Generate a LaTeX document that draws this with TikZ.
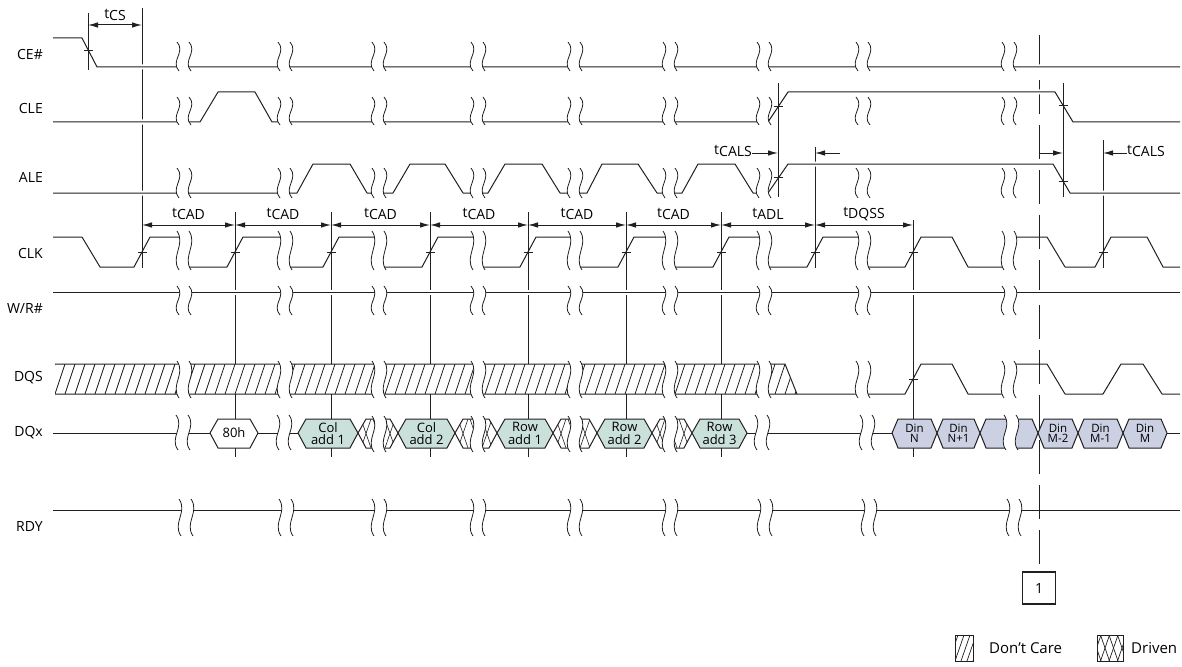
\documentclass[tikz,border=0pt]{standalone}
\usepackage{fontspec}
\setmainfont{Open Sans}
\usetikzlibrary{arrows.meta}
\definecolor{lc}{RGB}{35,31,32}
\definecolor{addrfill}{RGB}{202,224,219}
\definecolor{dinfill}{RGB}{203,208,227}

\newcommand{\tsub}[1]{t\raisebox{-0.35ex}{#1}}
% break mark: centre x, top y, bottom y
\newcommand{\brk}[3]{%
  \fill[white] ({#1-7},#2) .. controls ({#1+2},{#2+0.35*(#3-#2)}) and ({#1-14},{#2+0.65*(#3-#2)}) .. ({#1-5},#3)
    -- ({#1+7},#3) .. controls ({#1-2},{#2+0.65*(#3-#2)}) and ({#1+14},{#2+0.35*(#3-#2)}) .. ({#1+5},#2) -- cycle;
  \draw[lc, line width=0.8pt] ({#1-7},#2) .. controls ({#1+2},{#2+0.35*(#3-#2)}) and ({#1-14},{#2+0.65*(#3-#2)}) .. ({#1-5},#3);
  \draw[lc, line width=0.8pt] ({#1+5},#2) .. controls ({#1+14},{#2+0.35*(#3-#2)}) and ({#1-2},{#2+0.65*(#3-#2)}) .. ({#1+7},#3);
}

\begin{document}
\begin{tikzpicture}[x=1pt, y=-1pt,
  sig/.style={draw=lc, line width=1pt, line join=round},
  halo/.style={preaction={draw=white, line width=5pt}},
  tl/.style={draw=lc, line width=1pt},
  dim/.style={draw=lc, line width=1pt, arrows={Latex[length=10pt,width=5.5pt]-Latex[length=10pt,width=5.5pt]}},
  one/.style={draw=lc, line width=1pt, arrows={-Latex[length=10pt,width=5.5pt]}},
  tk/.style={draw=lc, line width=0.9pt},
  lbl/.style={anchor=east, inner sep=0pt, font=\fontsize{14}{16}\selectfont},
  tlbl/.style={inner sep=0pt, font=\fontsize{14}{16}\selectfont},
  hexlbl/.style={align=center, inner sep=0pt, font=\fontsize{13}{12.5}\selectfont},
  dinlbl/.style={align=center, inner sep=0pt, font=\fontsize{11.5}{10.5}\selectfont},
  lgtxt/.style={anchor=west, inner sep=0pt, font=\fontsize{15}{17}\selectfont},
]
\useasboundingbox (0,0) rectangle (1182,666);
\def\cols{184,285,379,478,575,670,764,863,1009}

% Reference lines (behind)
\node[draw=lc, line width=1.5pt, minimum width=33pt, minimum height=32pt, inner sep=0pt,
      font=\fontsize{14}{16}\selectfont] (n1) at (1039,588) {1};
\draw[lc, line width=1pt, dash pattern=on 34pt off 11pt] (1039,35) -- (n1.north);
\draw[tl] (142,8) -- (142,268);
\foreach \x in {235,331,430,528,626,721} \draw[tl] (\x,212) -- (\x,457);
\draw[tl] (815,147) -- (815,268);
\draw[tl] (913,220) -- (913,457);
\draw[tl] (1103,140) -- (1103,268);

% Signal names
\node[lbl] (lce) at (43,55) {CE\#};
\node[lbl] (lcle) at (43,108) {CLE};
\node[lbl] (lale) at (43,177) {ALE};
\node[lbl] (lclk) at (43,253) {CLK};
\node[lbl] (lwr) at (43,308) {W/R\#};
\node[lbl] (ldqs) at (43,378) {DQS};
\node[lbl] (ldqx) at (43,433) {DQx};
\node[lbl] (lrdy) at (43,526) {RDY};

% Waveforms
\draw[sig, halo] (53,38) -- (82,38) -- (97,67) -- (1180,67);
\draw[sig, halo] (53,122) -- (200,122) -- (218,92) -- (255,92) -- (272,122) -- (768,122) -- (788,92)
  -- (1055,92) -- (1073,122) -- (1180,122);
\draw[sig, halo] (53,193) -- (297,193) -- (313,164) -- (350,164) -- (367,193)
  -- (393,193) -- (410,164) -- (445,164) -- (463,193)
  -- (488,193) -- (505,164) -- (542,164) -- (560,193)
  -- (587,193) -- (602,164) -- (638,164) -- (657,193)
  -- (682,193) -- (698,164) -- (735,164) -- (753,193)
  -- (768,193) -- (788,164) -- (1053,164) -- (1070,193) -- (1180,193);
\draw[sig] (53,237) -- (82,237) -- (100,267) -- (134,267) -- (150,237) -- (184,237) -- (184,267)
  -- (227,267) -- (243,237) -- (285,237) -- (285,267)
  -- (323,267) -- (339,237) -- (379,237) -- (379,267)
  -- (422,267) -- (438,237) -- (478,237) -- (478,267)
  -- (520,267) -- (536,237) -- (575,237) -- (575,267)
  -- (618,267) -- (634,237) -- (670,237) -- (670,267)
  -- (713,267) -- (729,237) -- (764,237) -- (764,267)
  -- (807,267) -- (823,237) -- (863,237) -- (863,267)
  -- (905,267) -- (921,237) -- (952,237) -- (968,267) -- (1009,267) -- (1009,237)
  -- (1047,237) -- (1065,267) -- (1095,267) -- (1111,237) -- (1147,237) -- (1163,267) -- (1180,267);
\draw[sig, halo] (53,292.5) -- (1180,292.5);
\draw[sig] (53,510.5) -- (1180,510.5);

% DQS
\begin{scope}
  \clip (55,364) -- (785,364) -- (797,394) -- (55,394) -- cycle;
  \fill[white] (55,364) rectangle (797,394);
  \foreach \hx in {45,55,...,795} \draw[lc, line width=0.8pt] (\hx,394) -- ({\hx+10},364);
\end{scope}
\draw[sig] (55,364) -- (785,364) -- (797,394);
\draw[sig] (55,394) -- (905,394) -- (921,364) -- (952,364) -- (968,394) -- (1009,394) -- (1009,364)
  -- (1047,364) -- (1065,394) -- (1103,394) -- (1121,364) -- (1143,364) -- (1162,394) -- (1180,394);

% DQx
\draw[sig] (53,433) -- (210,433);
\filldraw[sig, fill=white] (210,433) -- (218,419) -- (250,419) -- (258,433) -- (250,448) -- (218,448) -- cycle;
\node[hexlbl] (h80) at (234,433) {80h};
\draw[sig] (258,433) -- (298,433);
\foreach \a/\b in {358/398,455/497,553/597,652/692}{
  \begin{scope}
    \clip (\a,433) -- ({\a+8},419) -- ({\b-8},419) -- (\b,433) -- ({\b-8},448) -- ({\a+8},448) -- cycle;
    \fill[white] (\a,419) rectangle (\b,448);
    \foreach \k in {0,...,3}{
      \draw[lc, line width=0.6pt] ({\a+3+12*\k},448) -- ({\a+3+12*\k+10},419);
      \draw[lc, line width=0.6pt] ({\a+3+12*\k},419) -- ({\a+3+12*\k+10},448);
    }
  \end{scope}
  \draw[sig] (\a,433) -- ({\a+8},419) -- ({\b-8},419) -- (\b,433) -- ({\b-8},448) -- ({\a+8},448) -- cycle;
}
\foreach \a/\b/\n/\t in {298/358/ca1/{Col\\add 1}, 398/455/ca2/{Col\\add 2}, 497/553/ra1/{Row\\add 1},
                         597/652/ra2/{Row\\add 2}, 692/747/ra3/{Row\\add 3}}{
  \filldraw[sig, fill=addrfill] (\a,433) -- ({\a+8},419) -- ({\b-8},419) -- (\b,433) -- ({\b-8},448) -- ({\a+8},448) -- cycle;
  \node[hexlbl] (\n) at ({(\a+\b)/2},433.5) {\t};
}
\draw[sig] (747,433) -- (892,433);
\foreach \a/\b/\n/\t in {892/937/d1/{Din\\N}, 937/980/d2/{Din\\N+1}, 980/1038/d3/{}, 1038/1078/d4/{Din\\M-2},
                         1078/1123/d5/{Din\\M-1}, 1123/1167/d6/{Din\\M}}{
  \filldraw[sig, fill=dinfill] (\a,433) -- ({\a+6},419) -- ({\b-6},419) -- (\b,433) -- ({\b-6},448) -- ({\a+6},448) -- cycle;
  \node[dinlbl] (\n) at ({(\a+\b)/2},433.5) {\t};
}
\draw[sig] (1167,433) -- (1180,433);

% Breaks
\foreach \c in \cols {\brk{\c}{42}{71} \brk{\c}{97}{125} \brk{\c}{168}{198} \brk{\c}{231}{270}
  \brk{\c}{286}{315} \brk{\c}{361}{398}}
\foreach \c in {183,284} {\brk{\c}{415}{450}}
\foreach \c in {379,478,575,670} {\brk{\c}{416}{452}}
\foreach \c in {762,867,1011} {\brk{\c}{415}{450}}
\foreach \c in {186,286,379,478,575,670,765,869,1014} {\brk{\c}{499}{536}}

% Reference lines (front)
\draw[tl] (88,13) -- (88,70);
\draw[tl] (778,83) -- (778,197);
\draw[tl] (1063,83) -- (1063,197);

% Crossing ticks
\foreach \x/\y in {88/50, 142/252, 235/252, 331/252, 430/252, 528/252, 626/252, 721/252, 815/252, 913/252,
                   1103/252, 778/106, 778/177, 1063/105, 1063/181, 913/379}
  \draw[tk] ({\x-4.5},\y) -- ({\x+4.5},\y);

% Timing parameters
\coordinate (cs0) at (88,25);
\coordinate (cs1) at (142,25);
\draw[dim] (cs0) -- node[tlbl, midway, yshift=10pt] (lcs) {\tsub{CS}} (cs1);
\foreach \i/\x in {0/142,1/235,2/331,3/430,4/528,5/626,6/721,7/815,8/913}
  \coordinate (v\i) at (\x,225);
\foreach \a/\b/\t in {0/1/CAD,1/2/CAD,2/3/CAD,3/4/CAD,4/5/CAD,5/6/CAD,6/7/ADL,7/8/DQSS}
  \draw[dim] (v\a) -- node[tlbl, midway, yshift=11pt] (lt\a) {\tsub{\t}} (v\b);

\coordinate (ca0) at (752,153);
\coordinate (ca1) at (778,153);
\coordinate (ca2) at (840,153);
\coordinate (ca3) at (815,153);
\draw[one] (ca0) -- (ca1);
\draw[one] (ca2) -- (ca3);
\node[tlbl, anchor=east, yshift=2pt] (lcals1) at (ca0) {\tsub{CALS}};
\coordinate (cb0) at (1039,153);
\coordinate (cb1) at (1063,153);
\coordinate (cb2) at (1127,153);
\coordinate (cb3) at (1103,153);
\draw[one] (cb0) -- (cb1);
\draw[one] (cb2) -- (cb3);
\node[tlbl, anchor=west, yshift=2pt] (lcals2) at (cb2) {\tsub{CALS}};

% Legend
\begin{scope}
  \clip (955,635) rectangle (973,661);
  \foreach \hx in {943,949,...,973} \draw[lc, line width=0.7pt] (\hx,661) -- ({\hx+9},635);
\end{scope}
\node[draw=lc, line width=0.8pt, minimum width=18pt, minimum height=26pt, inner sep=0pt] (kdc) at (964,648) {};
\node[lgtxt] (tdc) at (989,648) {Don’t Care};
\begin{scope}
  \clip (1097,635) rectangle (1123,661);
  \foreach \hx in {1092,1100.5,...,1124} {
    \draw[lc, line width=0.7pt] (\hx,661) -- ({\hx+9},635);
    \draw[lc, line width=0.7pt] (\hx,635) -- ({\hx+9},661);
  }
\end{scope}
\node[draw=lc, line width=0.8pt, minimum width=26pt, minimum height=26pt, inner sep=0pt] (kdr) at (1110,648) {};
\node[lgtxt] (tdr) at (1131,648) {Driven};
\end{tikzpicture}
\end{document}
